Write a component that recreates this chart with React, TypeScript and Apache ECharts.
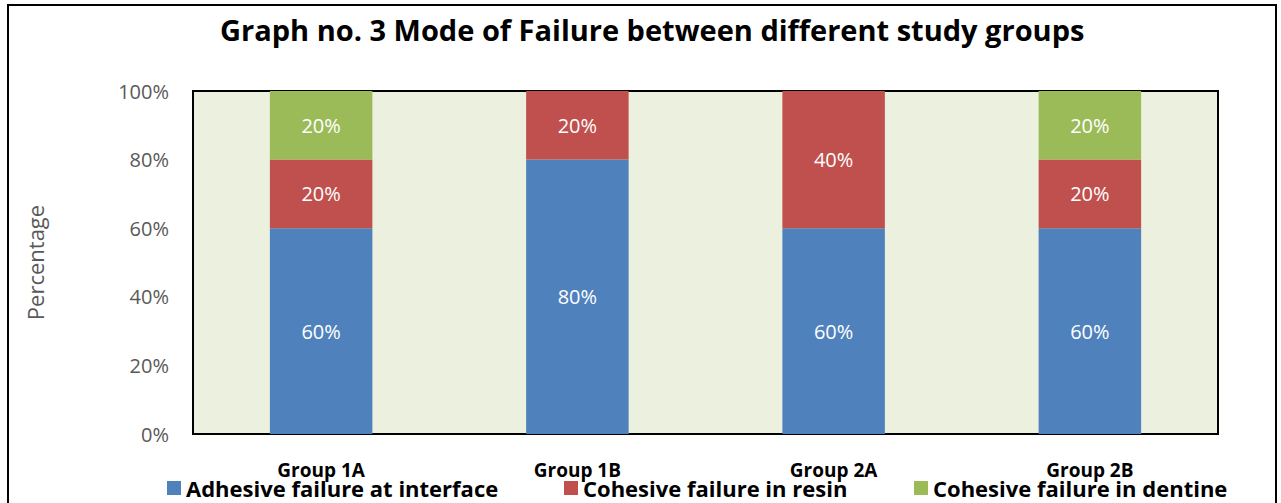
import React, { useEffect, useRef } from "react";
import * as echarts from "echarts";

const categories = ["Group 1A", "Group 1B", "Group 2A", "Group 2B"];
const adhesive = [60, 80, 60, 60];
const cohesiveResin = [20, 20, 40, 20];
const cohesiveDentine = [20, 0, 0, 20];
const seriesNames = [
  "Adhesive failure at interface",
  "Cohesive failure in resin",
  "Cohesive failure in dentine",
];
const colors = ["#4F81BD", "#C0504D", "#9BBB59"];
const FONT = "Open Sans";

export default function App() {
  const ref = useRef<HTMLDivElement>(null);
  useEffect(() => {
    const chart = echarts.init(ref.current!, null, { renderer: "svg" });
    const data = [adhesive, cohesiveResin, cohesiveDentine];
    const legendLefts = [167, 564, 914];
    chart.setOption({
      animation: false,
      backgroundColor: "#fff",
      title: {
        text: "Graph no. 3 Mode of Failure between different study groups",
        left: 220,
        top: 15,
        textStyle: { fontFamily: FONT, fontWeight: "bold", fontSize: 29, color: "#000" },
        padding: 0,
      },
      legend: seriesNames.map((n, i) => ({
        data: [n],
        left: legendLefts[i],
        top: 477,
        padding: 0,
        icon: "rect",
        itemWidth: 14,
        itemHeight: 14,
        itemGap: 6,
        selectedMode: false,
        textStyle: { fontFamily: FONT, fontWeight: "bold", fontSize: 22, color: "#000" },
      })),
      grid: {
        left: 193,
        right: 63,
        top: 91,
        bottom: 69,
        show: true,
        backgroundColor: "#EBF1DE",
        borderColor: "#000",
        borderWidth: 2,
        containLabel: false,
      },
      xAxis: {
        type: "category",
        data: categories,
        axisTick: { show: false },
        axisLine: { lineStyle: { color: "#000", width: 2 } },
        axisLabel: {
          margin: 26,
          fontFamily: FONT,
          fontWeight: "bold",
          fontSize: 19,
          color: "#000",
        },
      },
      yAxis: {
        type: "value",
        min: 0,
        max: 100,
        interval: 20,
        name: "Percentage",
        nameLocation: "middle",
        nameGap: 147,
        nameTextStyle: { fontFamily: FONT, fontSize: 22, color: "#595959" },
        splitLine: { show: false },
        axisTick: { show: false },
        axisLine: { show: true, lineStyle: { color: "#000", width: 2 } },
        axisLabel: {
          formatter: "{value}%",
          margin: 24,
          fontFamily: FONT,
          fontSize: 20,
          color: "#595959",
        },
      },
      graphic: [
        {
          type: "rect",
          shape: { x: 8, y: 5, width: 1268, height: 520 },
          style: { fill: "none", stroke: "#000", lineWidth: 2 },
          silent: true,
          z: 100,
        },
      ],
      series: seriesNames.map((n, i) => ({
        name: n,
        type: "bar",
        stack: "total",
        barWidth: "40%",
        itemStyle: { color: colors[i] },
        label: {
          show: true,
          position: "inside",
          formatter: (p: any) => (p.value > 0 ? p.value + "%" : ""),
          color: "#fff",
          fontFamily: FONT,
          fontSize: 20,
        },
        data: data[i].map((v) => (v > 0 ? v : null)),
      })),
    });
    return () => chart.dispose();
  }, []);
  return (
    <div
      ref={ref}
      style={{ position: "fixed", left: 0, top: 0, width: 1281, height: 503 }}
    />
  );
}
